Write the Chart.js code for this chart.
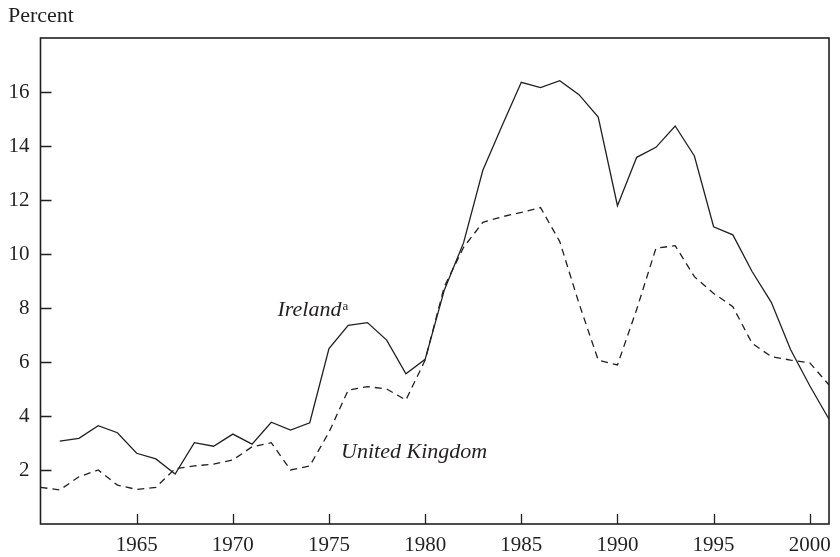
<!DOCTYPE html>
<html>
<head>
<meta charset="utf-8">
<script src="https://cdn.jsdelivr.net/npm/chart.js@4.4.1/dist/chart.umd.min.js"></script>
<style>
  html, body { margin: 0; padding: 0; background: #fff; }
  #wrap { width: 840px; height: 557px; }
</style>
</head>
<body>
<div id="wrap"><canvas id="unemp-chart" width="840" height="557"></canvas></div>
<script>
// years and values
const ukYears = [1960, 1961, 1962, 1963, 1964, 1965, 1966, 1967, 1968, 1969,
  1970, 1971, 1972, 1973, 1974, 1975, 1976, 1977, 1978, 1979,
  1980, 1981, 1982, 1983, 1984, 1985, 1986, 1987, 1988, 1989,
  1990, 1991, 1992, 1993, 1994, 1995, 1996, 1997, 1998, 1999, 2000, 2001];
const ukValues = [1.36, 1.26, 1.75, 2.0, 1.44, 1.28, 1.36, 2.05, 2.15, 2.22,
  2.37, 2.86, 3.01, 2.0, 2.15, 3.4, 4.96, 5.09, 5.0, 4.59,
  6.07, 8.8, 10.25, 11.17, 11.38, 11.54, 11.72, 10.46, 8.17, 6.07,
  5.89, 7.95, 10.21, 10.31, 9.16, 8.54, 8.05, 6.69, 6.2, 6.07, 5.97, 5.15];

const irelandYears = ukYears.slice(1);
const irelandValues = [3.07, 3.17, 3.64, 3.38, 2.62, 2.41, 1.85, 3.01, 2.88,
  3.33, 2.96, 3.77, 3.48, 3.75, 6.5, 7.36, 7.46, 6.81, 5.56,
  6.1, 8.67, 10.42, 13.1, 14.75, 16.36, 16.16, 16.42, 15.9, 15.07,
  11.79, 13.58, 13.95, 14.74, 13.63, 11.01, 10.71, 9.35, 8.21, 6.46, 5.12, 3.88];

const xTicks = [1965, 1970, 1975, 1980, 1985, 1990, 1995, 2000];
const yTicks = [2, 4, 6, 8, 10, 12, 14, 16];

const ink = '#231f20';
const serif = "'Liberation Serif', 'Times New Roman', serif";

const toPoints = (xs, ys) => xs.map((x, i) => ({x: x, y: ys[i]}));

// frame, inward tick marks and text labels
const framePlugin = {
  id: 'frame',
  afterDraw(chart) {
    const {ctx, chartArea: a, scales} = chart;
    ctx.save();
    ctx.strokeStyle = ink;
    ctx.lineWidth = 1.6;
    ctx.strokeRect(a.left, a.top, a.right - a.left, a.bottom - a.top);

    ctx.lineWidth = 1.3;
    ctx.beginPath();
    yTicks.forEach(v => {
      const py = Math.round(scales.y.getPixelForValue(v)) + 0.5;
      ctx.moveTo(a.left, py);
      ctx.lineTo(a.left + 11, py);
    });
    xTicks.forEach(v => {
      const px = Math.round(scales.x.getPixelForValue(v)) + 0.5;
      ctx.moveTo(px, a.bottom);
      ctx.lineTo(px, a.bottom - 10);
    });
    ctx.stroke();

    ctx.fillStyle = ink;
    ctx.textBaseline = 'alphabetic';
    ctx.textAlign = 'left';
    ctx.font = '22px ' + serif;
    ctx.fillText('Percent', 8, 22);

    ctx.font = 'italic 22px ' + serif;
    const ix = scales.x.getPixelForValue(1972.32);
    const iy = scales.y.getPixelForValue(7.7);
    ctx.fillText('Ireland', ix, iy);
    const w = ctx.measureText('Ireland').width;
    ctx.font = '13px ' + serif;
    ctx.fillText('a', ix + w + 1, iy - 6);

    ctx.font = 'italic 22px ' + serif;
    ctx.fillText('United Kingdom', scales.x.getPixelForValue(1975.63), scales.y.getPixelForValue(2.44));
    ctx.restore();
  }
};

new Chart(document.getElementById('unemp-chart'), {
  type: 'line',
  data: {
    datasets: [
      {
        label: 'Ireland',
        data: toPoints(irelandYears, irelandValues),
        borderColor: ink,
        borderWidth: 1.3,
        pointRadius: 0,
        tension: 0,
        fill: false,
      },
      {
        label: 'United Kingdom',
        data: toPoints(ukYears, ukValues),
        borderColor: ink,
        borderWidth: 1.3,
        borderDash: [7, 5],
        pointRadius: 0,
        tension: 0,
        fill: false,
      },
    ],
  },
  options: {
    responsive: false,
    animation: false,
    events: [],
    layout: {padding: {top: 38, right: 9, left: 0, bottom: 0}},
    plugins: {legend: {display: false}, tooltip: {enabled: false}},
    scales: {
      x: {
        type: 'linear',
        min: 1960,
        max: 2001,
        afterBuildTicks: s => { s.ticks = xTicks.map(v => ({value: v})); },
        afterFit: s => { s.height = 33; },
        grid: {display: false, drawTicks: false},
        border: {display: false},
        ticks: {
          color: ink,
          padding: 9,
          font: {family: serif, size: 21},
          callback: v => String(v),
          maxRotation: 0,
        },
      },
      y: {
        min: 0,
        max: 18,
        afterBuildTicks: s => { s.ticks = yTicks.map(v => ({value: v})); },
        afterFit: s => { s.width = 40.5; },
        grid: {display: false, drawTicks: false},
        border: {display: false},
        ticks: {
          color: ink,
          padding: 11,
          font: {family: serif, size: 21},
        },
      },
    },
  },
  plugins: [framePlugin],
});
</script>
</body>
</html>
